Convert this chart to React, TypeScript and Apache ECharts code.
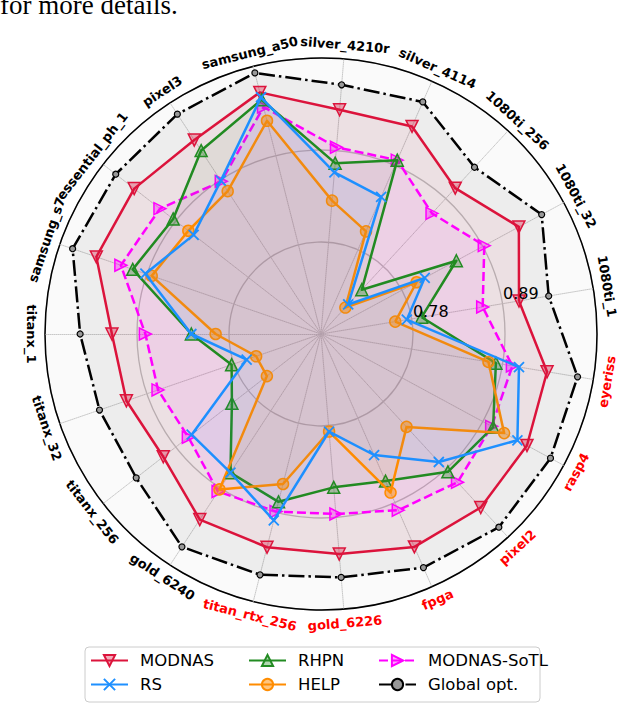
import React, { useEffect, useRef } from "react";
import * as echarts from "echarts";

// categories in counter-clockwise order, starting just above the east direction
const categories = [
  "1080ti_1", "1080ti_32", "1080ti_256", "silver_4114", "silver_4210r",
  "samsung_a50", "pixel3", "essential_ph_1", "samsung_s7", "titanx_1",
  "titanx_32", "titanx_256", "gold_6240", "titan_rtx_256", "gold_6226",
  "fpga", "pixel2", "rasp4", "eyeriss",
];
const redCategories = ["eyeriss", "rasp4", "pixel2", "fpga", "gold_6226", "titan_rtx_256"];

const radialMin = 0.67;
const radialMax = 1.0;
const radialTicks = ["0.78", "0.89"];

const modnas = [0.910, 0.939, 0.907, 0.941, 0.939, 0.968, 0.947, 0.953, 0.954, 0.920, 0.916, 0.909, 0.935, 0.933, 0.934, 0.948, 0.952, 0.950, 0.944];
const rs = [0.774, 0.811, 0.718, 0.849, 0.864, 0.962, 0.889, 0.863, 0.892, 0.825, 0.764, 0.866, 0.868, 0.900, 0.787, 0.828, 0.878, 0.937, 0.910];
const rhpn = [0.792, 0.854, 0.742, 0.897, 0.875, 0.959, 0.932, 0.894, 0.908, 0.825, 0.783, 0.805, 0.868, 0.877, 0.854, 0.862, 0.894, 0.904, 0.882];
const help = [0.760, 0.800, 0.713, 0.804, 0.830, 0.933, 0.874, 0.871, 0.884, 0.796, 0.752, 0.752, 0.892, 0.855, 0.787, 0.877, 0.821, 0.919, 0.873];
const sotl = [0.866, 0.892, 0.866, 0.897, 0.894, 0.950, 0.888, 0.914, 0.923, 0.880, 0.876, 0.871, 0.895, 0.889, 0.886, 0.900, 0.911, 0.902, 0.902];
const globalOpt = [0.946, 0.970, 0.941, 0.973, 0.969, 0.992, 0.984, 0.981, 0.984, 0.958, 0.950, 0.950, 0.974, 0.967, 0.962, 0.975, 0.984, 0.982, 0.981];

const seriesNames = ["MODNAS", "RS", "RHPN", "HELP", "MODNAS-SoTL", "Global opt."];

export default function App() {
  const ref = useRef<HTMLDivElement>(null);
  useEffect(() => {
    if (!ref.current) return;
    const chart = echarts.init(ref.current, null, { renderer: "svg" });
    const cx = 321, cy = 334, R = 276;
    const N = categories.length;
    const startAngle = 180 / N;
    const toR = (v: number) => ((v - radialMin) / (radialMax - radialMin)) * R;

    const labelEls = categories.map((c, i) => {
      const deg = startAngle + (i * 360) / N;
      const rad = (deg * Math.PI) / 180;
      const rr = R + 14;
      const rot = deg < 179 ? deg - 90 : deg - 270;
      return {
        type: "text",
        x: cx + rr * Math.cos(rad),
        y: cy - rr * Math.sin(rad),
        rotation: (rot * Math.PI) / 180,
        style: {
          text: c,
          align: "center",
          verticalAlign: "middle",
          font: 'bold 13px "DejaVu Sans"',
          fill: redCategories.includes(c) ? "#ff0000" : "#000000",
        },
      };
    });

    const tickEls = radialTicks.map((t) => {
      const rad = (11.5 * Math.PI) / 180;
      const rr = toR(parseFloat(t)) + 20;
      return {
        type: "text",
        x: cx + rr * Math.cos(rad),
        y: cy - rr * Math.sin(rad),
        z: 100,
        style: {
          text: t,
          align: "center",
          verticalAlign: "middle",
          font: '16px "DejaVu Sans"',
          fill: "#000",
        },
      };
    });

    const indicator = categories.map((name) => ({ name, min: radialMin, max: radialMax }));

    const styles: Record<string, any> = {
      "Global opt.": {
        color: "#000000", symbol: "circle", symbolSize: 6, fill: "#999999", borderWidth: 1.2,
        dash: [16, 4, 2.5, 4], areaOpacity: 0.05, z: 2, values: globalOpt,
      },
      MODNAS: {
        color: "#dc143c", symbol: "triangle", symbolSize: 12, symbolRotate: 180,
        fill: "rgba(220,20,60,0.35)", z: 3, values: modnas,
      },
      "MODNAS-SoTL": {
        color: "#ff00ff", symbol: "triangle", symbolSize: 12, symbolRotate: -90,
        fill: "rgba(255,0,255,0.35)", dash: [9, 4], areaOpacity: 0.07, z: 4, values: sotl,
      },
      RHPN: {
        color: "#228b22", symbol: "triangle", symbolSize: 12, fill: "rgba(34,139,34,0.35)", z: 5, values: rhpn,
      },
      HELP: {
        color: "#ff8c00", symbol: "circle", symbolSize: 11, fill: "rgba(255,140,0,0.5)", z: 6, values: help,
      },
      RS: {
        color: "#1e90ff", symbol: "path://M0,0L10,10M10,0L0,10", symbolSize: 10, borderWidth: 1.8,
        fill: "none", z: 7, values: rs,
      },
    };

    const drawOrder = ["Global opt.", "MODNAS", "MODNAS-SoTL", "RHPN", "HELP", "RS"];

    const commonStyle = (s: any) => ({
      symbol: s.symbol,
      symbolSize: s.symbolSize,
      symbolRotate: s.symbolRotate ?? 0,
      itemStyle: { color: s.fill, borderColor: s.color, borderWidth: s.borderWidth ?? 1.5 },
      lineStyle: { color: s.color, width: 2.5, type: s.dash ?? "solid" },
    });

    // legend proxies (line-type icons), no data
    const legendProxies = seriesNames.map((name) => ({
      type: "line",
      name,
      data: [],
      xAxisIndex: 0,
      yAxisIndex: 0,
      ...commonStyle(styles[name]),
    }));

    const radarSeries = drawOrder.map((name) => {
      const s = styles[name];
      return {
        type: "radar",
        radarIndex: 0,
        name: name + " ",
        z: s.z,
        data: [{ name, value: s.values }],
        ...commonStyle(s),
        areaStyle: { color: s.color, opacity: s.areaOpacity ?? 0.06 },
      };
    });

    const legendCommon = {
      orient: "vertical",
      top: 647,
      itemWidth: 37,
      itemHeight: 14,
      itemGap: 7,
      textStyle: { fontSize: 16.5, fontFamily: "DejaVu Sans", color: "#000", padding: [0, 0, 0, 7] },
      selectedMode: false,
    };

    chart.setOption({
      animation: false,
      textStyle: { fontFamily: "DejaVu Sans" },
      grid: { left: 0, top: 0, width: 1, height: 1, show: false },
      xAxis: { type: "value", show: false },
      yAxis: { type: "value", show: false },
      radar: [
        {
          center: [cx, cy],
          radius: R,
          startAngle,
          shape: "circle",
          splitNumber: 3,
          indicator,
          axisName: { show: false },
          axisLine: { lineStyle: { color: "#c8c8c8", type: "dotted", width: 1 } },
          splitLine: { lineStyle: { color: "#c0c0c0", width: 1.3 } },
          splitArea: { show: true, areaStyle: { color: ["#fafafa"] } },
        },
        {
          center: [cx, cy],
          radius: R,
          startAngle,
          shape: "circle",
          splitNumber: 1,
          indicator,
          silent: true,
          axisName: { show: false },
          axisLine: { show: false },
          splitLine: { lineStyle: { color: "#000000", width: 1.5 } },
          splitArea: { show: false },
        },
      ],
      legend: [
        { ...legendCommon, left: 85, data: [seriesNames[0], seriesNames[1]] },
        { ...legendCommon, left: 243, data: [seriesNames[2], seriesNames[3]] },
        { ...legendCommon, left: 373, data: [seriesNames[4], seriesNames[5]] },
      ],
      graphic: [
        {
          type: "text",
          x: 0,
          y: 18,
          style: {
            text: "for more details.",
            font: '27px "Liberation Serif"',
            fill: "#000",
            verticalAlign: "bottom",
          },
        },
        {
          type: "rect",
          z: -10,
          shape: { x: 85, y: 647, width: 455, height: 55, r: 4 },
          style: { fill: "#ffffff", stroke: "#cccccc", lineWidth: 1 },
        },
        ...labelEls,
        ...tickEls,
      ],
      series: [...legendProxies, ...radarSeries],
    });
    return () => chart.dispose();
  }, []);
  return (
    <div
      ref={ref}
      style={{ position: "fixed", left: 0, top: 0, width: 622, height: 704, background: "#fff" }}
    />
  );
}
